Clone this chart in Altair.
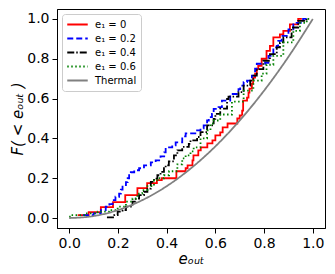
import altair as alt
import pandas as pd

series_names = ["e₁ = 0", "e₁ = 0.2", "e₁ = 0.4", "e₁ = 0.6", "Thermal"]
series_colors = ["#ff0000", "#0000ff", "#000000", "#008000", "#808080"]
series_dashes = [[1, 0], [6, 3], [7, 2, 1.5, 2], [1.5, 2.5], [1, 0]]

red_x = [0.035, 0.08, 0.13, 0.18, 0.23, 0.28, 0.32, 0.36, 0.38, 0.44, 0.478, 0.486, 0.506, 0.51,
         0.53, 0.54, 0.567, 0.588, 0.60, 0.62, 0.63, 0.65, 0.69, 0.70, 0.71, 0.714, 0.73, 0.736,
         0.74, 0.75, 0.755, 0.763, 0.77, 0.776, 0.79, 0.81, 0.824, 0.838, 0.865, 0.879, 0.906,
         0.94, 0.955]
red_y = [0.015, 0.03, 0.055, 0.08, 0.115, 0.15, 0.175, 0.19, 0.20, 0.235, 0.25, 0.265, 0.29, 0.315,
         0.34, 0.355, 0.375, 0.39, 0.415, 0.43, 0.455, 0.475, 0.50, 0.515, 0.54, 0.59, 0.605, 0.63,
         0.65, 0.675, 0.705, 0.725, 0.75, 0.765, 0.80, 0.84, 0.865, 0.907, 0.923, 0.94, 0.973,
         1.0, 1.0]

blue_x = [0.056, 0.10, 0.13, 0.15, 0.165, 0.178, 0.19, 0.205, 0.212, 0.219, 0.233, 0.24, 0.246,
          0.253, 0.267, 0.287, 0.307, 0.335, 0.355, 0.375, 0.39, 0.396, 0.423, 0.437, 0.464, 0.478,
          0.525, 0.539, 0.552, 0.566, 0.573, 0.586, 0.593, 0.613, 0.627, 0.661, 0.695, 0.702,
          0.716, 0.73, 0.75, 0.763, 0.77, 0.804, 0.818, 0.838, 0.852, 0.858, 0.872, 0.90, 0.92,
          0.96, 0.975]
blue_y = [0.015, 0.023, 0.04, 0.057, 0.07, 0.09, 0.107, 0.123, 0.143, 0.165, 0.18, 0.20, 0.215,
          0.23, 0.24, 0.25, 0.265, 0.28, 0.29, 0.31, 0.33, 0.355, 0.365, 0.38, 0.41, 0.425,
          0.44, 0.45, 0.465, 0.49, 0.507, 0.523, 0.548, 0.557, 0.59, 0.623, 0.648, 0.665,
          0.683, 0.69, 0.715, 0.75, 0.775, 0.78, 0.815, 0.857, 0.865, 0.89, 0.915, 0.948, 0.98,
          1.0, 1.0]

black_x = [0.155, 0.185, 0.199, 0.219, 0.233, 0.26, 0.273, 0.287, 0.307, 0.321, 0.335, 0.348,
           0.362, 0.375, 0.389, 0.396, 0.409, 0.43, 0.444, 0.464, 0.491, 0.498, 0.525, 0.539,
           0.566, 0.593, 0.60, 0.62, 0.648, 0.654, 0.695, 0.716, 0.743, 0.756, 0.77, 0.797,
           0.824, 0.852, 0.865, 0.879, 0.913, 0.94, 0.974, 0.985]
black_y = [0.003, 0.015, 0.032, 0.04, 0.057, 0.082, 0.098, 0.115, 0.132, 0.148, 0.182, 0.198,
           0.215, 0.232, 0.25, 0.265, 0.285, 0.315, 0.34, 0.357, 0.373, 0.39, 0.407, 0.432,
           0.465, 0.498, 0.523, 0.55, 0.598, 0.61, 0.632, 0.665, 0.69, 0.715, 0.748, 0.79,
           0.823, 0.857, 0.882, 0.907, 0.957, 0.99, 1.0, 1.0]

green_x = [0.0, 0.008, 0.062, 0.117, 0.165, 0.199, 0.233, 0.26, 0.28, 0.30, 0.321, 0.348, 0.362,
           0.389, 0.41, 0.444, 0.464, 0.478, 0.498, 0.511, 0.539, 0.566, 0.58, 0.593, 0.62, 0.668,
           0.716, 0.756, 0.79, 0.81, 0.838, 0.879, 0.92, 0.947, 0.975, 0.985]
green_y = [0.007, 0.015, 0.023, 0.032, 0.04, 0.057, 0.082, 0.098, 0.123, 0.14, 0.16, 0.19, 0.20,
           0.215, 0.235, 0.27, 0.30, 0.315, 0.335, 0.355, 0.40, 0.44, 0.475, 0.49, 0.52, 0.585,
           0.64, 0.69, 0.725, 0.77, 0.815, 0.882, 0.94, 0.98, 1.0, 1.0]

thermal_x = [0.0, 0.1, 0.2, 0.3, 0.4, 0.5, 0.6, 0.7, 0.8, 0.9, 1.0]
thermal_y = [0.0, 0.01, 0.04, 0.09, 0.16, 0.25, 0.36, 0.49, 0.64, 0.81, 1.0]

tick_values = [0.0, 0.2, 0.4, 0.6, 0.8, 1.0]

rows = []
for name, xs, ys in [(series_names[0], red_x, red_y), (series_names[1], blue_x, blue_y),
                     (series_names[2], black_x, black_y), (series_names[3], green_x, green_y)]:
    for i, (a, b) in enumerate(zip(xs, ys)):
        rows.append({"series": name, "x": a, "y": b, "order": i})
steps = pd.DataFrame(rows)
thermal = pd.DataFrame({"series": series_names[4], "x": thermal_x, "y": thermal_y,
                        "order": list(range(len(thermal_x)))})

xscale = alt.Scale(domain=[-0.05, 1.05], nice=False, zero=False)
yscale = alt.Scale(domain=[-0.05, 1.05], nice=False, zero=False)
color = alt.Color("series:N", scale=alt.Scale(domain=series_names, range=series_colors),
                  legend=alt.Legend(title=None, orient="none", legendX=5, legendY=5,
                                    symbolType="stroke", symbolSize=420, symbolStrokeWidth=1.8,
                                    clipHeight=13,
                                    labelFontSize=10, labelFont="DejaVu Sans", labelColor="black",
                                    fillColor="white", strokeColor="#cccccc", cornerRadius=3,
                                    padding=4, rowPadding=1, labelOffset=6))
dash = alt.StrokeDash("series:N", scale=alt.Scale(domain=series_names, range=series_dashes),
                      legend=None)
xenc = alt.X("x:Q", scale=xscale,
             axis=alt.Axis(values=tick_values, format=".1f", title="eₒᵤₜ", titlePadding=1))
yenc = alt.Y("y:Q", scale=yscale,
             axis=alt.Axis(values=tick_values, format=".1f", title="F( < eₒᵤₜ )", titlePadding=1))

thermal_layer = alt.Chart(thermal).mark_line(interpolate="monotone", strokeWidth=1.8).encode(
    x=xenc, y=yenc, color=color, strokeDash=dash, order="order:Q")
step_layer = alt.Chart(steps).mark_line(interpolate="step-after", strokeWidth=1.8).encode(
    x=xenc, y=yenc, color=color, strokeDash=dash, order="order:Q")

chart = alt.layer(step_layer, thermal_layer).properties(
    width=268, height=219, autosize=alt.AutoSizeParams(type="none"),
    padding={"left": 49, "top": 1, "right": 2, "bottom": 38}
).configure_view(stroke="black", strokeWidth=1).configure_axis(
    grid=False, domainColor="black", tickColor="black", tickSize=5, labelPadding=3,
    labelFontSize=14, labelFont="DejaVu Sans", labelColor="black",
    titleFontSize=15, titleFont="DejaVu Sans", titleFontWeight="normal", titleColor="black",
    titleFontStyle="italic"
)

chart.save("out.html", embed_options={"renderer": "svg", "actions": False})
